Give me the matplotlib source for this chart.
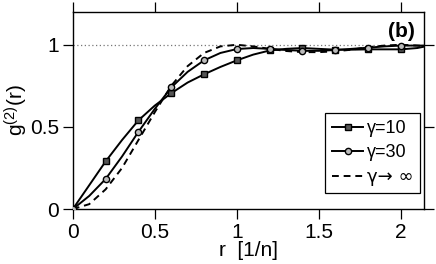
import matplotlib
matplotlib.use("Agg")
import matplotlib.pyplot as plt
from matplotlib.ticker import FixedLocator, FixedFormatter

plt.rcParams['font.family'] = ['Liberation Sans', 'DejaVu Sans']
plt.rcParams['mathtext.fontset'] = 'custom'
plt.rcParams['mathtext.rm'] = 'Liberation Sans'
plt.rcParams['mathtext.it'] = 'Liberation Sans'

r = [0.0, 0.1, 0.2, 0.3, 0.4, 0.5, 0.6, 0.7, 0.8, 0.9, 1.0,
     1.1, 1.2, 1.3, 1.4, 1.5, 1.6, 1.7, 1.8, 1.9, 2.0, 2.1, 2.15]
g10 = [0.0, 0.145, 0.29, 0.42, 0.54, 0.63, 0.705, 0.77, 0.82, 0.865, 0.905,
       0.94, 0.965, 0.975, 0.98, 0.975, 0.97, 0.97, 0.972, 0.972, 0.972, 0.98, 0.99]
g30 = [0.0, 0.08, 0.183, 0.32, 0.47, 0.61, 0.74, 0.835, 0.905, 0.95, 0.974,
       0.98, 0.975, 0.968, 0.963, 0.963, 0.968, 0.975, 0.982, 0.99, 0.995, 0.995, 0.995]
ginf = [0.0, 0.03, 0.12, 0.25, 0.42, 0.59, 0.75, 0.87, 0.95, 0.99, 1.0,
        0.99, 0.975, 0.962, 0.955, 0.955, 0.96, 0.97, 0.985, 0.995, 1.0, 0.995, 0.99]
labels = ['γ=10', 'γ=30', 'γ→ ∞']
xticks = [0, 0.5, 1, 1.5, 2]
xticklabels = ['0', '0.5', '1', '1.5', '2']
yticks = [0, 0.5, 1]
yticklabels = ['0', '0.5', '1']

fig = plt.figure(figsize=(4.36, 2.64), dpi=100)
ax = fig.add_axes([0.167, 0.208, 0.805, 0.747])

ax.axhline(1.0, color='#777777', lw=0.9, ls=(0, (1, 2)), zorder=1)
mk = slice(0, 21, 2)
ax.plot(r, g10, color='black', lw=1.4, marker='s', ms=4.5, mfc='#555555', mec='black',
        mew=1.0, markevery=mk, label=labels[0], zorder=3)
ax.plot(r, g30, color='black', lw=1.4, marker='o', ms=4.5, mfc='#bbbbbb', mec='black',
        mew=1.0, markevery=mk, label=labels[1], zorder=3)
ax.plot(r, ginf, color='black', lw=1.4, ls=(0, (3.5, 2.5)), label=labels[2], zorder=2)

ax.set_xlim(0, 2.14)
ax.set_ylim(0, 1.2)
ax.xaxis.set_major_locator(FixedLocator(xticks))
ax.xaxis.set_major_formatter(FixedFormatter(xticklabels))
ax.yaxis.set_major_locator(FixedLocator(yticks))
ax.yaxis.set_major_formatter(FixedFormatter(yticklabels))
ax.tick_params(direction='out', length=7, width=0.9, labelsize=15,
               top=True, right=True, labeltop=False, labelright=False, pad=3)
for s in ax.spines.values():
    s.set_linewidth(1.0)

ax.set_xlabel('r  [1/n]', fontsize=15, labelpad=-1)
ax.set_ylabel('g$^{(2)}$(r)', fontsize=15, labelpad=0)

ax.text(0.976, 0.95, '(b)', transform=ax.transAxes, ha='right', va='top',
        fontsize=15, fontweight='bold')

leg = ax.legend(loc='lower right', bbox_to_anchor=(0.99, 0.08), fontsize=13,
                frameon=True, fancybox=False, edgecolor='black', framealpha=1,
                handlelength=1.7, handletextpad=0.2, borderpad=0.4,
                labelspacing=0.38, borderaxespad=0.0)
leg.get_frame().set_linewidth(0.9)
leg.get_texts()[2].set_family(['DejaVu Sans'])

fig.savefig('out.png', dpi=100)
